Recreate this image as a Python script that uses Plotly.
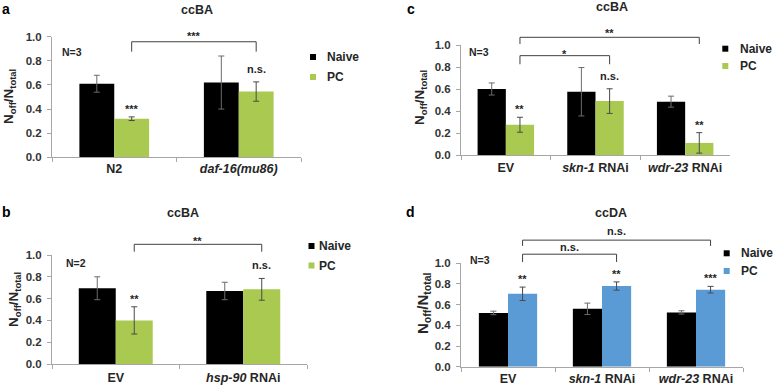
import plotly.graph_objects as go

W, H = 778, 386
FONT = "Liberation Sans, Arial, sans-serif"

# ---------------- data ----------------
a_cats = ["N2", "<i>daf-16(mu86)</i>"]
a_naive = [0.61, 0.62]
a_naive_err = [0.07, 0.22]
a_pc = [0.32, 0.545]
a_pc_err = [0.015, 0.08]
a_sig = ["***", "n.s."]

b_cats = ["EV", "<i>hsp-90</i> RNAi"]
b_naive = [0.695, 0.67]
b_naive_err = [0.105, 0.08]
b_pc = [0.40, 0.685]
b_pc_err = [0.125, 0.10]
b_sig = ["**", "n.s."]

c_cats = ["EV", "<i>skn-1</i> RNAi", "<i>wdr-23</i> RNAi"]
c_naive = [0.60, 0.575, 0.485]
c_naive_err = [0.055, 0.22, 0.05]
c_pc = [0.275, 0.49, 0.11]
c_pc_err = [0.068, 0.112, 0.093]
c_sig = ["**", "n.s.", "**"]

d_cats = ["EV", "<i>skn-1</i> RNAi", "<i>wdr-23</i> RNAi"]
d_naive = [0.52, 0.56, 0.525]
d_naive_err = [0.017, 0.055, 0.016]
d_pc = [0.705, 0.78, 0.745]
d_pc_err = [0.065, 0.04, 0.032]
d_sig = ["**", "**", "***"]

y_ticks = [0.0, 0.2, 0.4, 0.6, 0.8, 1.0]
series_names = ["Naive", "PC"]

GREEN = "#A9C951"
BLUE = "#5B9BD5"
BLACK = "#000000"
AXIS = "#A6A6A6"
TXT = "#262626"


def X(px):
    return px / W


def Y(py):
    return 1 - py / H


panels = [
    dict(ax="", cats=a_cats, naive=a_naive, naive_err=a_naive_err, pc=a_pc, pc_err=a_pc_err,
         sig=a_sig, color=GREEN, xpx=(52, 301), ypx=(36.7, 157.3), bw=0.28,
         letter="a", letter_pos=(6, 0), letter_anchor="top", title="ccBA", title_pos=(197, 10),
         ntext="N=3", n_pos=(72, 52), leg=(313, 57, 77, 325),
         ytitle_pos=(9, 97), ytitle_size=13.5, standoff=0,
         brackets=[(0, 1, "***", 0.958, 0.876, 1.03)]),
    dict(ax="2", cats=b_cats, naive=b_naive, naive_err=b_naive_err, pc=b_pc, pc_err=b_pc_err,
         sig=b_sig, color=GREEN, xpx=(52, 307), ypx=(255, 364), bw=0.29,
         letter="b", letter_pos=(6, 212), letter_anchor="middle", title="ccBA", title_pos=(183, 213),
         ntext="N=2", n_pos=(76, 263), leg=(311.5, 246, 265.5, 317),
         ytitle_pos=(14, 300), ytitle_size=13.5, standoff=2,
         brackets=[(0, 1, "**", 1.098, 1.03, 1.155)]),
    dict(ax="3", cats=c_cats, naive=c_naive, naive_err=c_naive_err, pc=c_pc, pc_err=c_pc_err,
         sig=c_sig, color=GREEN, xpx=(461, 730), ypx=(45, 155), bw=0.315,
         letter="c", letter_pos=(411, 0), letter_anchor="top", title="ccBA", title_pos=(612, 7),
         ntext="N=3", n_pos=(479, 52), leg=(725.3, 48.7, 66, 737.5),
         ytitle_pos=(420, 98), ytitle_size=13.5, standoff=1,
         brackets=[(0, 2, "**", 1.07, 1.009, 1.136), (0, 1, "*", 0.903, 0.825, 0.945)]),
    dict(ax="4", cats=d_cats, naive=d_naive, naive_err=d_naive_err, pc=d_pc, pc_err=d_pc_err,
         sig=d_sig, color=BLUE, xpx=(461, 743), ypx=(263.3, 366.7), bw=0.31,
         letter="d", letter_pos=(411, 212), letter_anchor="middle", title="ccDA", title_pos=(611, 213),
         ntext="N=3", n_pos=(480, 260), leg=(726.7, 253.3, 271, 738.5),
         ytitle_pos=(423, 303), ytitle_size=15, standoff=0,
         brackets=[(0, 2, "n.s.", 1.224, 1.168, 1.31), (0, 1, "n.s.", 1.088, 1.013, 1.159)]),
]

fig = go.Figure()
annotations = []
shapes = []
layout_axes = {}

for p in panels:
    xa = "x" + p["ax"]
    ya = "y" + p["ax"]
    w = p["bw"]
    # bars
    fig.add_trace(go.Bar(
        x=p["cats"], y=p["naive"], name=series_names[0], marker=dict(color=BLACK, line=dict(width=0)),
        width=w, offset=-w, xaxis=xa, yaxis=ya, showlegend=False,
        error_y=dict(type="data", array=p["naive_err"], visible=True, color="#6b6b6b", thickness=1, width=3),
    ))
    fig.add_trace(go.Bar(
        x=p["cats"], y=p["pc"], name=series_names[1], marker=dict(color=p["color"], line=dict(width=0)),
        width=w, offset=0, xaxis=xa, yaxis=ya, showlegend=False,
        error_y=dict(type="data", array=p["pc_err"], visible=True, color="#4a4a4a", thickness=1, width=3),
    ))
    n = len(p["cats"])
    layout_axes["xaxis" + p["ax"]] = dict(
        domain=[X(p["xpx"][0]), X(p["xpx"][1])], anchor=ya, type="category",
        range=[-0.5, n - 0.5], showline=True, linecolor=AXIS, linewidth=1,
        ticks="outside", tickson="boundaries", ticklen=4, tickcolor=AXIS,
        showgrid=False, zeroline=False, fixedrange=True, automargin=False,
        tickfont=dict(family=FONT, size=12.5, color=TXT, weight="bold"),
        ticklabelstandoff=p["standoff"],
    )
    layout_axes["yaxis" + p["ax"]] = dict(
        domain=[Y(p["ypx"][1]), Y(p["ypx"][0])], anchor=xa, range=[0, 1],
        tickvals=y_ticks, ticktext=["%.1f" % t for t in y_ticks],
        showline=True, linecolor=AXIS, linewidth=1, ticks="outside", ticklen=4,
        tickcolor=AXIS, showgrid=False, zeroline=False, fixedrange=True, automargin=False,
        tickfont=dict(family=FONT, size=11.5, color="#333333", weight="bold"),
        ticklabelstandoff=3,
    )
    # significance labels above PC bars
    for i, s in enumerate(p["sig"]):
        annotations.append(dict(
            x=i + w / 2, y=p["pc"][i] + p["pc_err"][i], xref=xa, yref=ya,
            text="<b>%s</b>" % s, showarrow=False, yanchor="bottom", xanchor="center",
            yshift=(0 if "*" in s else 5),
            font=dict(family=FONT, size=11, color=TXT),
        ))
    # brackets
    for (i, j, lab, top, bot, laby) in p["brackets"]:
        x0 = i + w / 2
        x1 = j + w / 2
        ln = dict(color="#404040", width=1)
        shapes.append(dict(type="line", xref=xa, yref=ya + " domain", x0=x0, x1=x0, y0=bot, y1=top, line=ln))
        shapes.append(dict(type="line", xref=xa, yref=ya + " domain", x0=x0, x1=x1, y0=top, y1=top, line=ln))
        shapes.append(dict(type="line", xref=xa, yref=ya + " domain", x0=x1, x1=x1, y0=top, y1=bot, line=ln))
        annotations.append(dict(
            x=(x0 + x1) / 2, y=laby, xref=xa, yref=ya + " domain", text="<b>%s</b>" % lab,
            showarrow=False, yanchor="middle", xanchor="center",
            yshift=(-3 if "*" in lab else 0),
            font=dict(family=FONT, size=11, color=TXT),
        ))
    # panel letter
    annotations.append(dict(x=X(p["letter_pos"][0]), y=Y(p["letter_pos"][1]), xref="paper", yref="paper",
                            text="<b>%s</b>" % p["letter"], showarrow=False, xanchor="center",
                            yanchor=p["letter_anchor"], borderpad=0,
                            font=dict(family=FONT, size=14, color="#000")))
    # title
    annotations.append(dict(x=X(p["title_pos"][0]), y=Y(p["title_pos"][1]), xref="paper", yref="paper",
                            text="<b>%s</b>" % p["title"], showarrow=False, xanchor="center", yanchor="middle",
                            font=dict(family=FONT, size=12.5, color=TXT)))
    # N= text
    annotations.append(dict(x=X(p["n_pos"][0]), y=Y(p["n_pos"][1]), xref="paper", yref="paper",
                            text="<b>%s</b>" % p["ntext"], showarrow=False, xanchor="center", yanchor="middle",
                            font=dict(family=FONT, size=10.5, color=TXT)))
    # y-axis title
    annotations.append(dict(x=X(p["ytitle_pos"][0]), y=Y(p["ytitle_pos"][1]), xref="paper", yref="paper",
                            text="<b>N<sub>off</sub>/N<sub>total</sub></b>", showarrow=False, textangle=-90,
                            xanchor="center", yanchor="middle",
                            font=dict(family=FONT, size=p["ytitle_size"], color=TXT)))
    # legend
    sqx, y1, y2, tx = p["leg"]
    for yy, col, nm in [(y1, BLACK, series_names[0]), (y2, p["color"], series_names[1])]:
        shapes.append(dict(type="rect", xref="paper", yref="paper",
                           x0=X(sqx - 3), x1=X(sqx + 3), y0=Y(yy + 3), y1=Y(yy - 3),
                           fillcolor=col, line=dict(width=0)))
        annotations.append(dict(x=X(tx), y=Y(yy), xref="paper", yref="paper", text="<b>%s</b>" % nm,
                                showarrow=False, xanchor="left", yanchor="middle",
                                font=dict(family=FONT, size=12, color=TXT)))

fig.update_layout(
    width=W, height=H, margin=dict(l=0, r=0, t=0, b=0, autoexpand=False),
    paper_bgcolor="white", plot_bgcolor="white",
    barmode="overlay", showlegend=False, hovermode=False,
    font=dict(family=FONT, color=TXT),
    annotations=annotations, shapes=shapes,
    **layout_axes,
)

fig.write_html(
    "out.html",
    config={"displayModeBar": False, "staticPlot": True},
    post_script="document.body.style.margin='0';document.body.style.padding='0';document.body.style.overflow='hidden';",
)
